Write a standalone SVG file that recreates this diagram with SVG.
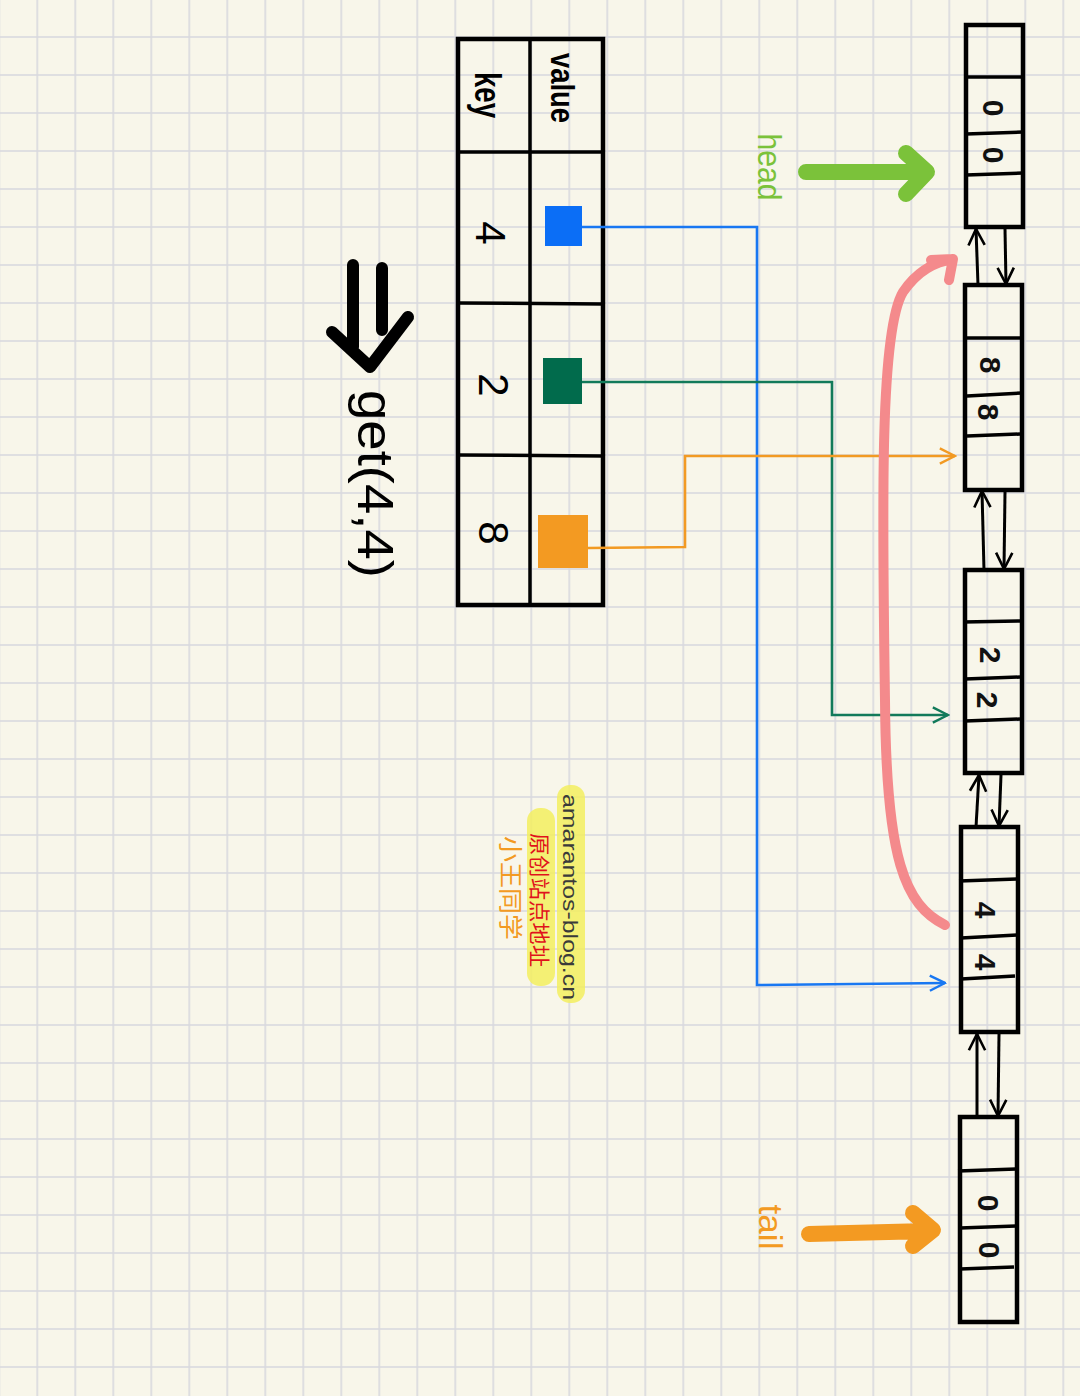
<svg xmlns="http://www.w3.org/2000/svg" width="1080" height="1396" viewBox="0 0 1080 1396">
<style>
.hand{font-family:"Liberation Sans","Noto Sans",sans-serif;text-anchor:middle;dominant-baseline:central}
.num{font-size:30px;fill:#111;font-weight:bold}
.box{fill:none;stroke:#000;stroke-width:4.5}
.div{stroke:#000;stroke-width:3.5}
.link{fill:none;stroke:#000;stroke-width:3;marker-end:url(#mk)}
.conn{fill:none;stroke-width:2.6}
</style>
<defs>
<pattern id="grid" patternUnits="userSpaceOnUse" x="18.3" y="18" width="38" height="38">
<path d="M19,0 V38 M0,19 H38" stroke="#d8d8de" stroke-width="1.6" fill="none"/>
</pattern>
<marker id="mk" viewBox="0 0 12 12" refX="11" refY="6" markerWidth="6.5" markerHeight="6.5" orient="auto" markerUnits="strokeWidth">
<path d="M1,1 L11,6 L1,11" fill="none" stroke="#000" stroke-width="1.6"/>
</marker>
<marker id="mb" viewBox="0 0 12 12" refX="11" refY="6" markerWidth="7" markerHeight="7" orient="auto" markerUnits="strokeWidth">
<path d="M1,1 L11,6 L1,11" fill="none" stroke="#1877f2" stroke-width="1.6"/>
</marker>
<marker id="mg" viewBox="0 0 12 12" refX="11" refY="6" markerWidth="7" markerHeight="7" orient="auto" markerUnits="strokeWidth">
<path d="M1,1 L11,6 L1,11" fill="none" stroke="#127a5a" stroke-width="1.6"/>
</marker>
<marker id="mo" viewBox="0 0 12 12" refX="11" refY="6" markerWidth="7" markerHeight="7" orient="auto" markerUnits="strokeWidth">
<path d="M1,1 L11,6 L1,11" fill="none" stroke="#f29a23" stroke-width="1.6"/>
</marker>
</defs>
<rect width="1080" height="1396" fill="#f8f6ea"/>
<rect width="1080" height="1396" fill="url(#grid)"/>

<g id="table">
<rect x="458" y="39" width="145" height="566" class="box" stroke-width="4"/>
<line x1="530" y1="39" x2="530" y2="605" class="div"/>
<line x1="458" y1="152" x2="603" y2="152" class="div"/>
<line x1="458" y1="303" x2="603" y2="304" class="div"/>
<line x1="458" y1="455" x2="603" y2="456" class="div"/>
<text class="hand" transform="translate(487,95) rotate(90)" font-size="36" font-weight="bold" textLength="46" lengthAdjust="spacingAndGlyphs">key</text>
<text class="hand" transform="translate(563,88) rotate(90)" font-size="34" font-weight="bold" textLength="70" lengthAdjust="spacingAndGlyphs">value</text>
<text class="hand" transform="translate(490,233) rotate(90)" font-size="42">4</text>
<text class="hand" transform="translate(493,385) rotate(90)" font-size="42">2</text>
<text class="hand" transform="translate(493,533) rotate(90)" font-size="42">8</text>
<rect x="545" y="206" width="37" height="40" fill="#0b6ef6"/>
<rect x="543" y="358" width="39" height="46" fill="#016b4c"/>
<rect x="538" y="515" width="50" height="53" fill="#f39a22"/>
</g>

<g id="get">
<path d="M353,265 L353,347 M382,268 L382,330 M332,332 L370,367 L408,317" fill="none" stroke="#000" stroke-width="12" stroke-linecap="round" stroke-linejoin="round"/>
<text class="hand" transform="translate(375,484) rotate(90)" font-size="50" textLength="188" lengthAdjust="spacingAndGlyphs">get(4,4)</text>
</g>

<g id="watermark">
<rect x="557" y="785" width="28" height="218" rx="13" fill="#f3ef5f" opacity="0.85"/>
<rect x="527" y="808" width="28" height="178" rx="13" fill="#f3ef5f" opacity="0.85"/>
<text class="hand" transform="translate(570,897) rotate(90)" font-size="21" fill="#3a3a3a" textLength="206" lengthAdjust="spacingAndGlyphs">amarantos-blog.cn</text>
<text transform="translate(541,900) rotate(90)" font-family="'Noto Sans CJK SC',sans-serif" font-size="21" fill="#e0121c" text-anchor="middle" dominant-baseline="central" textLength="134" lengthAdjust="spacingAndGlyphs">原创站点地址</text>
<text transform="translate(512,888) rotate(90)" font-family="'Noto Sans CJK SC',sans-serif" font-size="24" fill="#f39a22" text-anchor="middle" dominant-baseline="central" textLength="104" lengthAdjust="spacingAndGlyphs">小王同学</text>
</g>

<g id="node0">
<rect x="966" y="25" width="57" height="202" class="box"/>
<line x1="964" y1="77" x2="1023" y2="77" class="div"/>
<line x1="966" y1="134" x2="1023" y2="132" class="div"/>
<line x1="966" y1="175" x2="1023" y2="173" class="div"/>
<text class="hand num" transform="translate(993,108) rotate(90)">0</text>
<text class="hand num" transform="translate(993,155) rotate(90)">0</text>
</g>
<g id="node8">
<rect x="965" y="285" width="57" height="205" class="box"/>
<line x1="963" y1="338" x2="1022" y2="338" class="div"/>
<line x1="967" y1="396" x2="1022" y2="393" class="div"/>
<line x1="967" y1="436" x2="1020" y2="434" class="div"/>
<text class="hand num" transform="translate(990,365) rotate(90)">8</text>
<text class="hand num" transform="translate(988,412) rotate(90)">8</text>
</g>
<g id="node2">
<rect x="965" y="570" width="57" height="203" class="box"/>
<line x1="963" y1="622" x2="1022" y2="621" class="div"/>
<line x1="965" y1="679" x2="1020" y2="677" class="div"/>
<line x1="965" y1="721" x2="1020" y2="719" class="div"/>
<text class="hand num" transform="translate(990,655) rotate(90)">2</text>
<text class="hand num" transform="translate(987,700) rotate(90)">2</text>
</g>
<g id="node4">
<rect x="961" y="827" width="57" height="205" class="box"/>
<line x1="959" y1="881" x2="1017" y2="879" class="div"/>
<line x1="961" y1="938" x2="1017" y2="935" class="div"/>
<line x1="961" y1="979" x2="1015" y2="976" class="div"/>
<text class="hand num" transform="translate(985,910) rotate(90)">4</text>
<text class="hand num" transform="translate(985,962) rotate(90)">4</text>
</g>
<g id="node0b">
<rect x="960" y="1117" width="57" height="205" class="box"/>
<line x1="958" y1="1171" x2="1016" y2="1169" class="div"/>
<line x1="960" y1="1228" x2="1016" y2="1226" class="div"/>
<line x1="960" y1="1269" x2="1014" y2="1267" class="div"/>
<text class="hand num" transform="translate(988,1203) rotate(90)">0</text>
<text class="hand num" transform="translate(989,1250) rotate(90)">0</text>
</g>

<g id="head">
<text class="hand" transform="translate(770,167) rotate(90)" font-size="34" fill="#7bc23a" textLength="67" lengthAdjust="spacingAndGlyphs">head</text>
<path d="M806,172 L926,172 M906,153 L927,172 L906,194" fill="none" stroke="#7bc23a" stroke-width="16" stroke-linecap="round" stroke-linejoin="round"/>
</g>
<g id="tail">
<text class="hand" transform="translate(771,1227) rotate(90)" font-size="34" fill="#f39a22" textLength="45" lengthAdjust="spacingAndGlyphs">tail</text>
<path d="M809,1234 L928,1231 M913,1213 L933,1230 L913,1246" fill="none" stroke="#f39a22" stroke-width="16" stroke-linecap="round" stroke-linejoin="round"/>
</g>

<g id="connectors">
<path class="link" d="M978,285 L976,229"/>
<path class="link" d="M1005,229 L1006,284"/>
<path class="link" d="M984,570 L982,491"/>
<path class="link" d="M1005,492 L1004,569"/>
<path class="link" d="M976,827 L979,775"/>
<path class="link" d="M1001,775 L999,826"/>
<path class="link" d="M977,1117 L977,1034"/>
<path class="link" d="M999,1034 L998,1116"/>
<path class="conn" stroke="#1877f2" marker-end="url(#mb)" d="M582,227 L757,227 L757,985 L945,983"/>
<path class="conn" stroke="#127a5a" marker-end="url(#mg)" d="M582,382 L832,382 L832,715 L948,715"/>
<path class="conn" stroke="#f29a23" marker-end="url(#mo)" d="M588,548 L685,547 L685,456 L955,456"/>
<path d="M945,925 C905,905 886,860 885,700 C882,500 880,330 903,292 C918,270 935,262 953,259 M931,260 L953,259 L949,280" fill="none" stroke="#f48a8c" stroke-width="10" stroke-linecap="round" stroke-linejoin="round"/>
</g>
</svg>
